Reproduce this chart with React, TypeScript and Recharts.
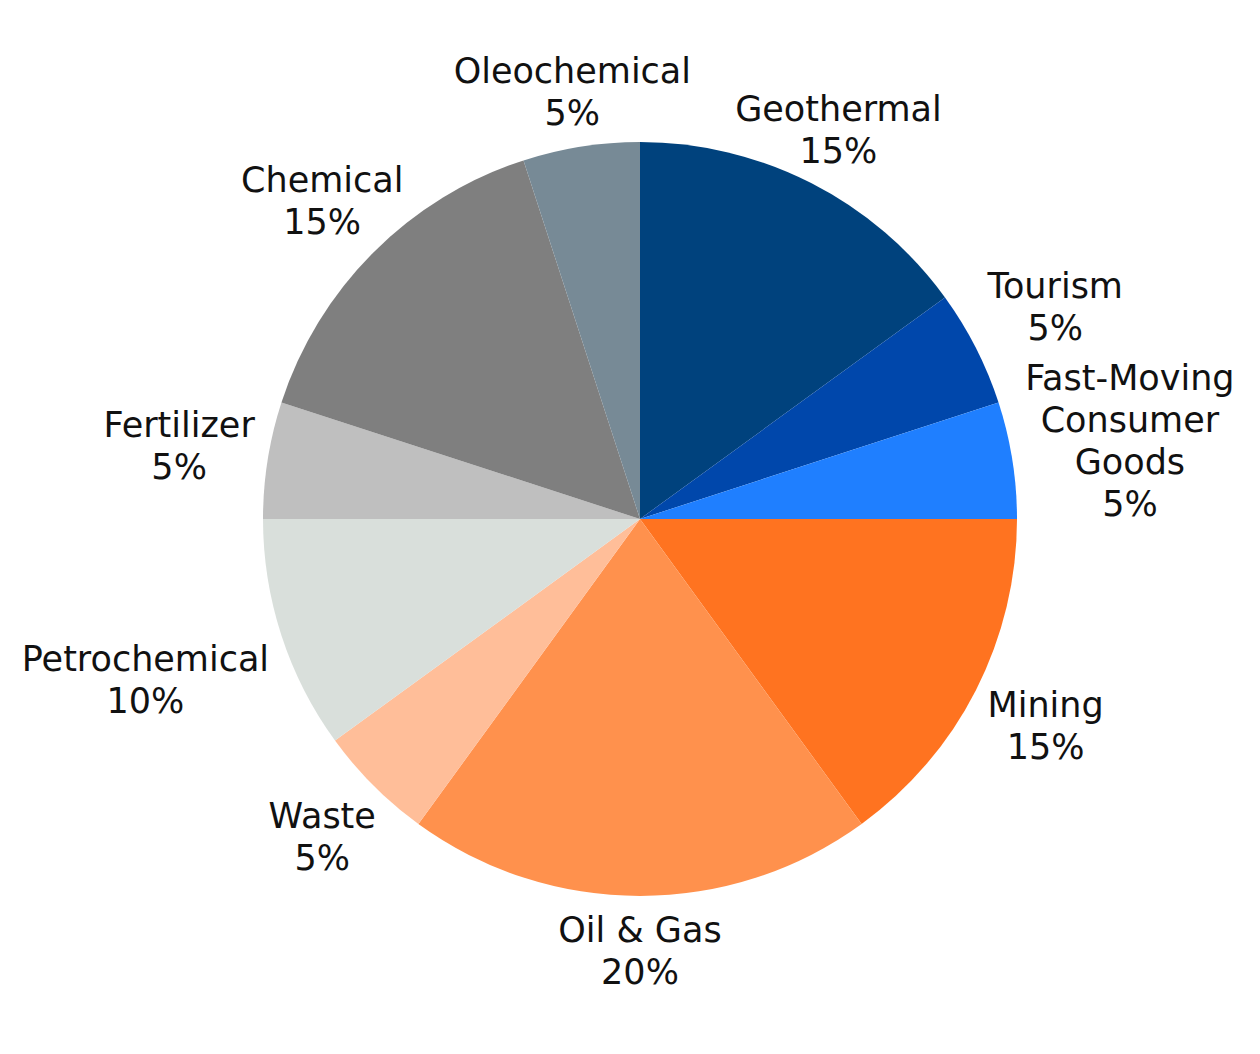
import React from "react"
import { PieChart, Pie, Cell } from "recharts"

// slices, clockwise from 12 o'clock
const categories = [
  "Geothermal", "Tourism", "Fast-Moving Consumer Goods", "Mining", "Oil & Gas",
  "Waste", "Petrochemical", "Fertilizer", "Chemical", "Oleochemical",
]
const shares = [15, 5, 5, 15, 20, 5, 10, 5, 15, 5]
const colors = [
  "#00427d", "#0047ab", "#1f7fff", "#ff7320", "#ff914d",
  "#ffbe99", "#d9dfdb", "#bfbfbf", "#7f7f7f", "#778a96",
]

const data = categories.map((name, i) => ({ name, value: shares[i] }))

const FONT = "'DejaVu Sans', sans-serif"
const FONT_SIZE = 35
const LINE_H = 42
const GAP = 13

let ctx: CanvasRenderingContext2D | null = null
function textWidth(s: string) {
  if (!ctx) ctx = document.createElement("canvas").getContext("2d")
  if (!ctx) return s.length * FONT_SIZE * 0.6
  ctx.font = `${FONT_SIZE}px ${FONT}`
  return ctx.measureText(s).width
}

function wrap(name: string) {
  return name.length > 16 ? name.split(" ") : [name]
}

const RAD = Math.PI / 180

function renderLabel(props: any) {
  const { cx, cy, midAngle, outerRadius, name, value } = props
  const lines = [...wrap(name), `${value}%`]
  const w = Math.max(...lines.map(textWidth)) / 2
  const h = (lines.length * LINE_H) / 2
  const cos = Math.cos(-midAngle * RAD)
  const sin = Math.sin(-midAngle * RAD)
  // push the label box out until its edge clears the pie
  const reach = Math.min(
    Math.abs(cos) > 1e-6 ? w / Math.abs(cos) : Infinity,
    Math.abs(sin) > 1e-6 ? h / Math.abs(sin) : Infinity,
  )
  const r = outerRadius + GAP + reach
  const x = cx + r * cos
  const y = cy + r * sin
  const top = y - ((lines.length - 1) * LINE_H) / 2
  return (
    <text
      x={x}
      y={top}
      textAnchor="middle"
      dominantBaseline="central"
      fill="#111"
      fontSize={FONT_SIZE}
      fontFamily={FONT}
    >
      {lines.map((l, i) => (
        <tspan key={i} x={x} y={top + i * LINE_H} dominantBaseline="central">
          {l}
        </tspan>
      ))}
    </text>
  )
}

export default function App() {
  return (
    <div style={{ position: "absolute", left: 0, top: 0, width: 1260, height: 1054, background: "#fff" }}>
      <PieChart width={1260} height={1054} margin={{ top: 0, right: 0, bottom: 0, left: 0 }}>
        <Pie
          data={data}
          dataKey="value"
          nameKey="name"
          cx={640}
          cy={519}
          outerRadius={377}
          startAngle={90}
          endAngle={-270}
          stroke="none"
          label={renderLabel}
          labelLine={false}
          isAnimationActive={false}
        >
          {data.map((d, i) => (
            <Cell key={d.name} fill={colors[i]} />
          ))}
        </Pie>
      </PieChart>
    </div>
  )
}
